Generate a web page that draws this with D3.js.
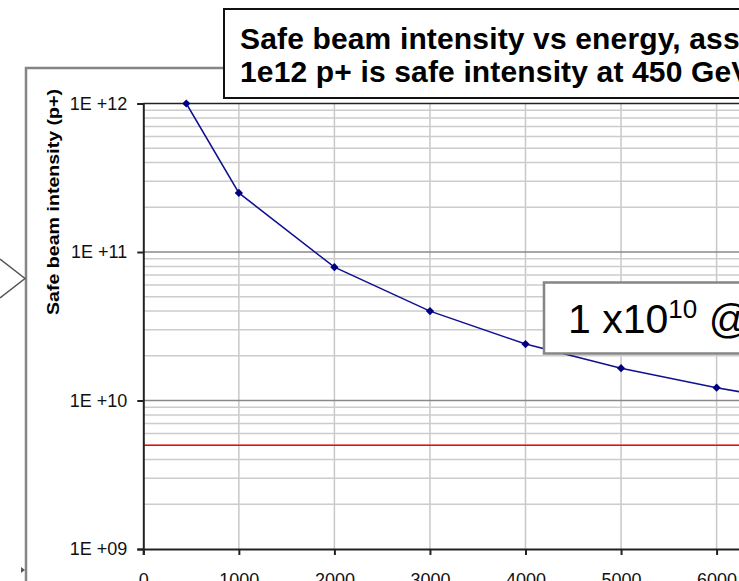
<!DOCTYPE html>
<html>
<head>
<meta charset="utf-8">
<script src="https://cdn.jsdelivr.net/npm/d3@7/dist/d3.min.js"></script>
<style>
  html, body { margin: 0; padding: 0; background: #ffffff; overflow: hidden; }
  svg { display: block; }
  text { font-family: "Liberation Sans", Arial, sans-serif; }
</style>
</head>
<body>
<svg id="chart" width="739" height="581"></svg>
<script>
// Beam energy (GeV) and the corresponding safe beam intensity (protons)
const energyGeV = [450, 1000, 2000, 3000, 4000, 5000, 6000, 7000];
const safeIntensity = [1e12, 2.5e11, 7.9e10, 4.0e10, 2.4e10, 1.65e10, 1.22e10, 9.4e9];
// Horizontal reference level
const referenceIntensity = 5e9;
// Axis ticks
const energyTicks = [0, 1000, 2000, 3000, 4000, 5000, 6000, 7000, 8000];
const intensityTicks = [1e9, 1e10, 1e11, 1e12];
const titleLines = [
  "Safe beam intensity vs energy, assuming",
  "1e12 p+ is safe intensity at 450 GeV"
];

const svg = d3.select("#chart");

const x = d3.scaleLinear().domain([0, 8000]).range([143.3, 143.3 + 8 * 95.55]);
const y = d3.scaleLog().domain([1e9, 1e12]).range([549, 103.5]);

// Outer chart frame and the connector shapes on the left
svg.append("rect")
  .attr("x", 26).attr("y", 68).attr("width", 900).attr("height", 700)
  .attr("fill", "#ffffff").attr("stroke", "#858585").attr("stroke-width", 2.5);

svg.append("polyline")
  .attr("points", "0,259 25,278.5 0,298")
  .attr("fill", "none").attr("stroke", "#555").attr("stroke-width", 1.5);

svg.append("path")
  .attr("d", "M21,567 L25,570 L21,573 Z")
  .attr("fill", "#555");

const plot = svg.append("g");

// Vertical gridlines
plot.selectAll("line.vgrid")
  .data(energyTicks.filter(d => d > 0))
  .join("line")
  .attr("class", "vgrid")
  .attr("x1", d => x(d)).attr("x2", d => x(d))
  .attr("y1", y(1e12)).attr("y2", y(1e9))
  .attr("stroke", "#c8c8c8").attr("stroke-width", 1.5);

// Log-scale minor gridlines (2..9 in each decade)
const minorValues = [];
[1e9, 1e10, 1e11].forEach(base => {
  for (let k = 2; k <= 9; k++) minorValues.push(base * k);
});
plot.selectAll("line.minor")
  .data(minorValues)
  .join("line")
  .attr("class", "minor")
  .attr("x1", x(0)).attr("x2", 739)
  .attr("y1", d => y(d)).attr("y2", d => y(d))
  .attr("stroke", "#cccccc").attr("stroke-width", 1.5);

// Major gridlines at each decade
plot.selectAll("line.major")
  .data([1e10, 1e11])
  .join("line")
  .attr("class", "major")
  .attr("x1", x(0)).attr("x2", 739)
  .attr("y1", d => y(d)).attr("y2", d => y(d))
  .attr("stroke", "#8a8a8a").attr("stroke-width", 1.5);

// Top border of plot area
plot.append("line")
  .attr("x1", x(0)).attr("x2", 739)
  .attr("y1", y(1e12)).attr("y2", y(1e12))
  .attr("stroke", "#222").attr("stroke-width", 1.5);

// Reference level line
plot.append("line")
  .attr("x1", x(0)).attr("x2", 739)
  .attr("y1", y(referenceIntensity)).attr("y2", y(referenceIntensity))
  .attr("stroke", "#ff0000").attr("stroke-width", 1.5);

// Axes
const yAxis = d3.axisLeft(y)
  .tickValues(intensityTicks)
  .tickSize(6).tickPadding(10)
  .tickFormat(d => "1E +" + String(Math.round(Math.log10(d))).padStart(2, "0"));

const yg = svg.append("g").attr("transform", `translate(${x(0)},0)`).call(yAxis);
yg.select(".domain").attr("stroke", "#222").attr("stroke-width", 2);
yg.selectAll(".tick line").attr("stroke", "#222").attr("stroke-width", 2);
yg.selectAll(".tick text")
  .attr("font-size", 18).attr("fill", "#111")
  .style("font-family", "'Liberation Sans', Arial, sans-serif");

const xAxis = d3.axisBottom(x)
  .tickValues(energyTicks)
  .tickSize(6).tickPadding(18)
  .tickFormat(d3.format("d"));

const xg = svg.append("g").attr("transform", `translate(0,${y(1e9)})`).call(xAxis);
xg.select(".domain").attr("stroke", "#222").attr("stroke-width", 2);
xg.selectAll(".tick line").attr("stroke", "#222").attr("stroke-width", 2);
xg.selectAll(".tick text")
  .attr("font-size", 18).attr("fill", "#111")
  .style("font-family", "'Liberation Sans', Arial, sans-serif");

// Y axis title
svg.append("text")
  .attr("transform", "translate(59,202) rotate(-90)")
  .attr("text-anchor", "middle")
  .attr("font-size", 17).attr("font-weight", "bold").attr("fill", "#000")
  .attr("textLength", 226).attr("lengthAdjust", "spacingAndGlyphs")
  .text("Safe beam intensity (p+)");

// Series line and diamond markers
const pts = energyGeV.map((e, i) => [e, safeIntensity[i]]);
const lineGen = d3.line().x(d => x(d[0])).y(d => y(d[1]));

plot.append("path")
  .datum(pts)
  .attr("d", lineGen)
  .attr("fill", "none").attr("stroke", "#101090").attr("stroke-width", 1.5);

plot.selectAll("path.marker")
  .data(pts)
  .join("path")
  .attr("class", "marker")
  .attr("d", d3.symbol(d3.symbolSquare, 34)())
  .attr("transform", d => `translate(${x(d[0])},${y(d[1])}) rotate(45)`)
  .attr("fill", "#000080");

// Annotation box
svg.append("rect")
  .attr("x", 544).attr("y", 282.5).attr("width", 300).attr("height", 71)
  .attr("fill", "#ffffff").attr("stroke", "#858585").attr("stroke-width", 2.5);

const note = svg.append("text")
  .attr("x", 568).attr("y", 333)
  .attr("font-size", 41).attr("fill", "#000");
note.append("tspan").text("1 x10");
note.append("tspan").attr("font-size", 26).attr("dy", -15).text("10");
note.append("tspan").attr("dy", 15).text(" @ 7 TeV");

// Title box
svg.append("rect")
  .attr("x", 224).attr("y", 9).attr("width", 600).attr("height", 89)
  .attr("fill", "#ffffff").attr("stroke", "#111").attr("stroke-width", 2);

svg.selectAll("text.title")
  .data(titleLines)
  .join("text")
  .attr("class", "title")
  .attr("x", 240)
  .attr("y", (d, i) => 49 + i * 33)
  .attr("font-size", 30).attr("font-weight", "bold").attr("fill", "#000")
  .attr("letter-spacing", 0.15)
  .text(d => d);
</script>
</body>
</html>
